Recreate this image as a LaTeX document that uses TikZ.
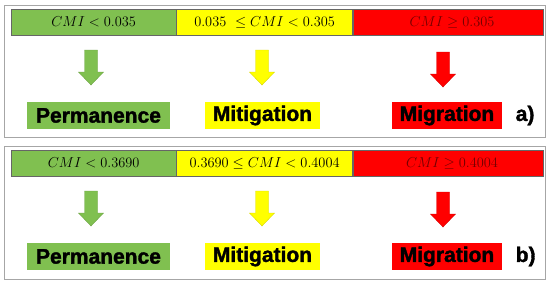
\documentclass[tikz,border=0pt]{standalone}
\usepackage{amsmath,amssymb}
\usepackage{fontspec}
\newfontfamily\labelfont[BoldFeatures={FakeBold=1.6}]{Liberation Sans}
\usepackage{xcolor}
\usetikzlibrary{positioning}

\definecolor{lowgreen}{RGB}{128,192,80}
\definecolor{midyellow}{RGB}{255,255,0}
\definecolor{highred}{RGB}{255,0,0}

\begin{document}
\begin{tikzpicture}[
    x=1pt, y=-1pt,
    panel/.style={draw=gray!70, line width=0.9pt},
    band/.style={rectangle, draw=gray!80!black, line width=0.4pt, minimum height=26pt, inner sep=0pt, font=\fontsize{15.5}{18}\selectfont},
    outcome/.style={rectangle, minimum height=27pt, inner sep=0pt, font=\labelfont\bfseries\fontsize{21}{24}\selectfont},
    tag/.style={font=\labelfont\bfseries\fontsize{21}{24}\selectfont},
    pics/blockarrow/.style={code={
        \draw[fill=#1, draw=#1!85!black, line width=0.4pt] (-6.5,0) -- (6.5,0) -- (6.5,22) -- (12.5,22) -- (0,35) -- (-12.5,22) -- (-6.5,22) -- cycle;
    }}
]
\useasboundingbox (0,0) rectangle (550,284);

% panel a
\node[panel, rectangle, minimum width=541pt, minimum height=132pt, anchor=north west] (frameA) at (4,5) {};
\node[band, fill=lowgreen, minimum width=165pt, anchor=north west] (lowA) at (11,9) {$CMI < 0.035$\hspace{12pt}};
\node[band, fill=midyellow, minimum width=176pt, right=0pt of lowA] (midA) {$0.035\ \leq CMI < 0.305$};
\node[band, fill=highred, minimum width=190pt, right=0pt of midA, text=red!45!black] (highA) {\hspace{8pt}$CMI \geq 0.305$};
\pic at (91,50) {blockarrow=lowgreen};
\pic at (262,50) {blockarrow=midyellow};
\pic at (443,52) {blockarrow=highred};
\node[outcome, fill=lowgreen, minimum width=143pt] (permA) at (98.5,115.5) {Permanence};
\node[outcome, fill=midyellow, minimum width=115pt] (mitA) at (262.5,115.5) {Mitigation};
\node[outcome, fill=highred, minimum width=110pt] (migA) at (447,115.5) {Migration};
\node[tag, right=10pt of migA] (tagA) {a)};

% panel b
\node[panel, rectangle, minimum width=541pt, minimum height=133pt, anchor=north west] (frameB) at (4,146) {};
\node[band, fill=lowgreen, minimum width=165pt, anchor=north west] (lowB) at (11,150) {$CMI < 0.3690$\hspace{12pt}};
\node[band, fill=midyellow, minimum width=176pt, right=0pt of lowB] (midB) {$0.3690 \leq CMI < 0.4004$};
\node[band, fill=highred, minimum width=190pt, right=0pt of midB, text=red!45!black] (highB) {\hspace{8pt}$CMI \geq 0.4004$};
\pic at (91,191) {blockarrow=lowgreen};
\pic at (262,191) {blockarrow=midyellow};
\pic at (443,192) {blockarrow=highred};
\node[outcome, fill=lowgreen, minimum width=143pt] (permB) at (98.5,256.5) {Permanence};
\node[outcome, fill=midyellow, minimum width=115pt] (mitB) at (262.5,256.5) {Mitigation};
\node[outcome, fill=highred, minimum width=110pt] (migB) at (447,256.5) {Migration};
\node[tag, right=10pt of migB] (tagB) {b)};

\end{tikzpicture}
\end{document}
